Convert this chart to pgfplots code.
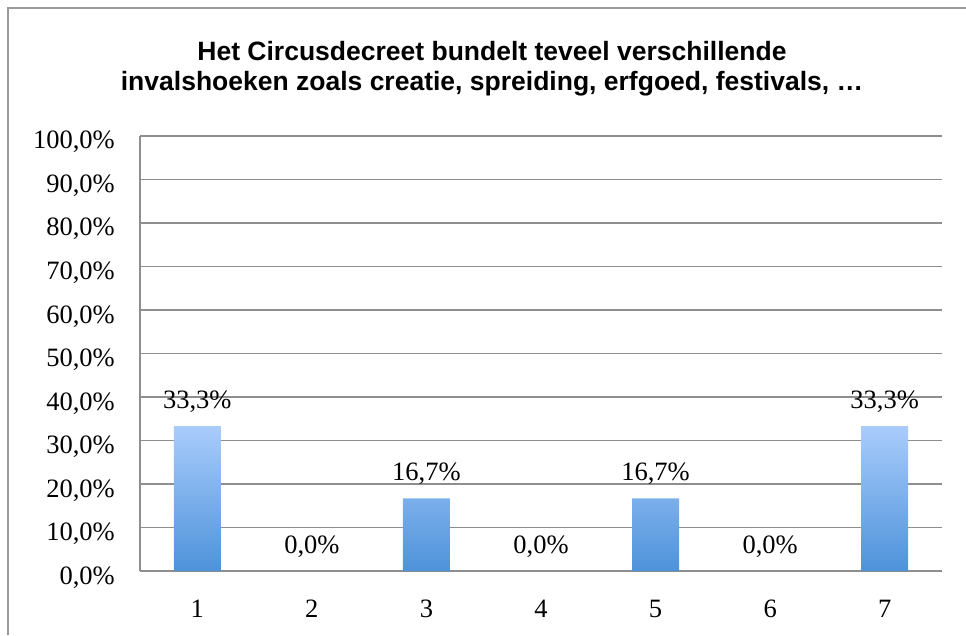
\documentclass[border=0pt]{standalone}
\usepackage{fontspec}
\setmainfont{Liberation Serif}
\newfontfamily\titlefont{Liberation Sans}
\usepackage{pgfplots}
\pgfplotsset{compat=1.18}
\definecolor{gridgray}{HTML}{8E8E8E}
\definecolor{framegray}{HTML}{9A9A9A}
\definecolor{bartop}{HTML}{A9CCFB}
\definecolor{barbot}{HTML}{4E92DA}
\begin{document}
\begin{tikzpicture}
\useasboundingbox (0,0) rectangle (966pt,635pt);
\draw[framegray, line width=1.5pt] (8pt,0) -- (8pt,627pt) -- (966pt,627pt);
\node[font=\titlefont\bfseries\fontsize{26.5}{29}\selectfont, anchor=base, inner sep=0pt] at (492pt,574pt)
  {Het Circusdecreet bundelt teveel verschillende};
\node[font=\titlefont\bfseries\fontsize{26.5}{29}\selectfont, anchor=base, inner sep=0pt] at (492pt,544pt)
  {invalshoeken zoals creatie, spreiding, erfgoed, festivals, …};
\begin{axis}[
  at={(140pt,64pt)}, anchor=south west,
  width=802pt, height=435pt, scale only axis,
  xmin=0.5, xmax=7.5, ymin=0, ymax=100,
  axis x line*=bottom, axis y line*=left,
  ytick={0,10,...,100}, xtick={1,...,7},
  ymajorgrids, grid style={gridgray, line width=1.5pt},
  axis line style={gridgray, line width=1.5pt},
  major tick length=0pt,
  /pgf/number format/assume math mode=true,
  tick label style={font=\fontsize{26.5}{30}\selectfont, inner sep=0pt},
  yticklabel={\pgfmathprintnumber[fixed,fixed zerofill,precision=1,use comma]{\tick}\%},
  yticklabel style={anchor=base east, xshift=-25pt, yshift=-13pt},
  xticklabel style={anchor=base, yshift=-46pt},
  ybar, bar width=47pt,
]
\addplot[bar shift=0pt, draw=none, top color=bartop, bottom color=barbot]
  coordinates {(1,33.3) (3,16.7) (5,16.7) (7,33.3)};
\addplot[bar shift=0pt, draw=none, fill=none,
  nodes near coords={\pgfmathprintnumber[fixed,fixed zerofill,precision=1,use comma]{\pgfplotspointmeta}\%},
  nodes near coords style={font=\fontsize{26.5}{30}\selectfont, anchor=base, inner sep=0pt, yshift=18pt}]
  coordinates {(1,33.3) (2,0) (3,16.7) (4,0) (5,16.7) (6,0) (7,33.3)};
\end{axis}
\end{tikzpicture}
\end{document}
